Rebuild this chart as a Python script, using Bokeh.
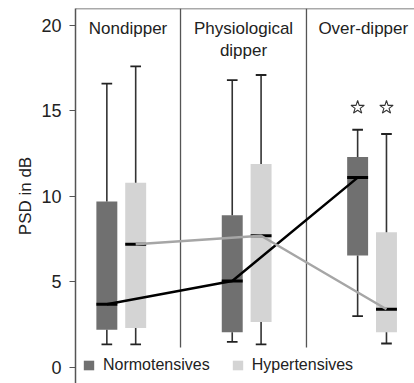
from bokeh.plotting import figure
from bokeh.models import Range1d, Legend, LegendItem, Span, FixedTicker
from bokeh.core.properties import value
from bokeh.embed import file_html
from bokeh.resources import INLINE

# ---- data ----
groups = ["Nondipper", "Physiological\ndipper", "Over-dipper"]
series = ["Normotensives", "Hypertensives"]

normo_low = [1.35, 1.5, 3.0]
normo_q1 = [2.2, 2.05, 6.55]
normo_med = [3.7, 5.05, 11.1]
normo_q3 = [9.7, 8.9, 12.3]
normo_high = [16.6, 16.8, 13.9]

hyper_low = [1.35, 1.35, 1.4]
hyper_q1 = [2.3, 2.65, 2.05]
hyper_med = [7.2, 7.7, 3.4]
hyper_q3 = [10.8, 11.9, 7.9]
hyper_high = [17.6, 17.1, 13.65]

significant = [False, False, True]   # star above both boxes of the group
star_level = 15.2
y_ticks = [0, 5, 10, 15, 20]

# ---- layout / style ----
FONT = "Liberation Sans"
DARK = "#707070"
LIGHT = "#d4d4d4"
AXIS = "#555555"
offset = 0.115
box_w = 0.167
cap_w = 0.085
Y0, Y1 = -0.94, 20.99

gpos = [i + 1 for i in range(len(groups))]
nx = [g - offset for g in gpos]
hx = [g + offset for g in gpos]

p = figure(width=414, height=383, output_backend="svg", toolbar_location=None,
           x_range=Range1d(0.635, 3.3385), y_range=Range1d(Y0, Y1),
           x_axis_location=None, min_border_left=75, min_border_top=8,
           min_border_right=0, min_border_bottom=0)
p.outline_line_color = None
p.grid.visible = False
p.background_fill_color = "white"

# frame top line and group dividers
p.add_layout(Span(location=Y1, dimension="width", line_color=AXIS, line_width=1.5))
div_x = [1.4725, 2.477]
p.segment(x0=div_x, x1=div_x, y0=[1.17] * 2, y1=[Y1] * 2, line_color=AXIS, line_width=1.3)


def draw_boxes(xs, low, q1, med, q3, high, color):
    r = p.vbar(x=xs, width=box_w, bottom=q1, top=q3, fill_color=color, line_color=None)
    p.segment(x0=xs, x1=xs, y0=q3, y1=high, line_color="#333333", line_width=1.6)
    p.segment(x0=xs, x1=xs, y0=low, y1=q1, line_color="#333333", line_width=1.6)
    p.segment(x0=[x - cap_w / 2 for x in xs], x1=[x + cap_w / 2 for x in xs],
              y0=high, y1=high, line_color="#222222", line_width=1.8)
    p.segment(x0=[x - cap_w / 2 for x in xs], x1=[x + cap_w / 2 for x in xs],
              y0=low, y1=low, line_color="#222222", line_width=1.8)
    p.segment(x0=[x - box_w / 2 for x in xs], x1=[x + box_w / 2 for x in xs],
              y0=med, y1=med, line_color="black", line_width=3)
    return r


rn = draw_boxes(nx, normo_low, normo_q1, normo_med, normo_q3, normo_high, DARK)
rh = draw_boxes(hx, hyper_low, hyper_q1, hyper_med, hyper_q3, hyper_high, LIGHT)

p.line(x=nx, y=normo_med, line_color="black", line_width=2.5)
p.line(x=hx, y=hyper_med, line_color="#a6a6a6", line_width=2.5)

sx = [x for x, s in zip(nx, significant) if s] + [x for x, s in zip(hx, significant) if s]
p.scatter(x=sx, y=[star_level] * len(sx), marker="star", size=14,
          fill_color=None, line_color="#333333", line_width=1.1)

# group titles
title_x = [1.054, 1.975, 2.93]
p.text(x=title_x, y=[20.35] * 3, text=groups, text_align="center", text_baseline="top",
       text_font=value(FONT), text_font_size="17px", text_color="#222222",
       text_line_height=1.15)

# y axis
ax = p.yaxis[0]
ax.ticker = FixedTicker(ticks=y_ticks)
ax.axis_label = "PSD in dB"
ax.axis_label_text_font = FONT
ax.axis_label_text_font_style = "normal"
ax.axis_label_text_font_size = "17px"
ax.axis_label_text_color = "#222222"
ax.axis_label_standoff = 3
ax.major_label_text_font = FONT
ax.major_label_text_font_size = "18px"
ax.major_label_text_color = "#222222"
ax.major_label_standoff = 8
ax.axis_line_color = AXIS
ax.axis_line_width = 1.5
ax.major_tick_line_color = AXIS
ax.major_tick_line_width = 1.2
ax.major_tick_in = 0
ax.major_tick_out = 6
ax.minor_tick_line_color = None

legend = Legend(items=[LegendItem(label=series[0], renderers=[rn]),
                       LegendItem(label=series[1], renderers=[rh])],
                orientation="horizontal", location=(7, 9),
                border_line_color=None, background_fill_alpha=0,
                padding=0, margin=0, spacing=21, label_standoff=8,
                glyph_width=13, glyph_height=12, label_height=12,
                label_text_font=FONT, label_text_font_size="16px",
                label_text_color="#222222")
p.add_layout(legend)

open("out.html", "w").write(file_html(p, INLINE))
